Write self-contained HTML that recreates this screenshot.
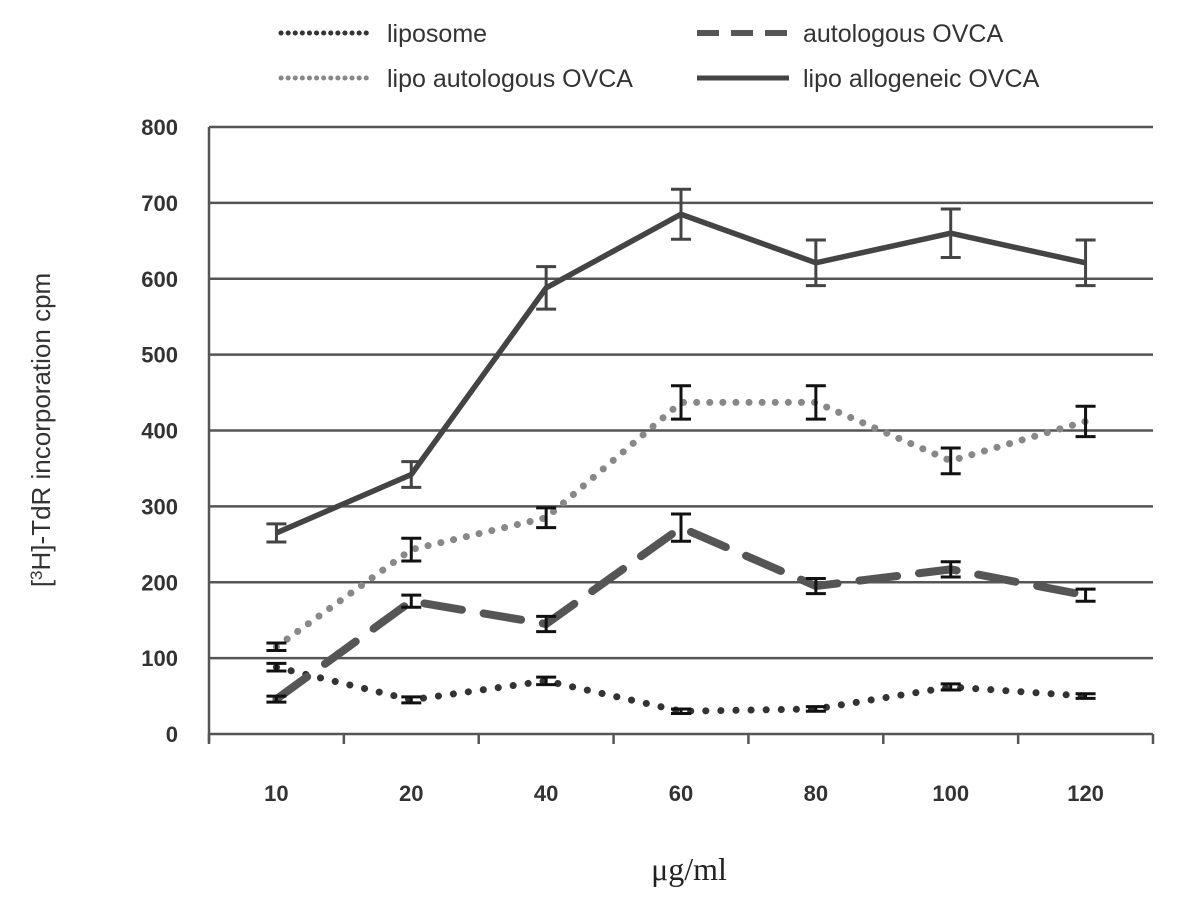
<!DOCTYPE html>
<html><head><meta charset="utf-8"><style>
body{margin:0;background:#fff}
svg text{font-family:"Liberation Sans",sans-serif}
</style></head><body>
<svg id="chart" width="1193" height="901" xmlns="http://www.w3.org/2000/svg"></svg>
<script>
const categories=["10","20","40","60","80","100","120"];
const yTicks=[0,100,200,300,400,500,600,700,800];
const liposome=[88,45,70,30,33,62,50];
const liposomeErr=[5,4,5,3,3,4,3];
const autologous=[46,175,145,272,195,217,183];
const autologousErr=[4,8,10,18,10,10,8];
const lipoAuto=[115,243,285,437,437,360,412];
const lipoAutoErr=[5,15,13,22,22,17,20];
const lipoAllo=[265,342,588,685,621,660,621];
const lipoAlloErr=[12,17,28,33,30,32,30];

const svg=document.getElementById('chart');
const NS="http://www.w3.org/2000/svg";
const x0=209,x1=1153,yBase=734,yTop=127,yMax=800;
const bw=(x1-x0)/categories.length;
function xS(i){return x0+bw*(i+0.5);}
function yS(v){return yBase-(v/yMax)*(yBase-yTop);}
function mk(tag,attrs,parent){const e=document.createElementNS(NS,tag);for(const k in attrs)e.setAttribute(k,attrs[k]);(parent||svg).appendChild(e);return e;}

yTicks.forEach(t=>{
  const l=mk('line',{x1:x0,x2:x1,y1:yS(t),y2:yS(t),stroke:'#555','stroke-width':2.5});
  
  
  const tx=mk('text',{x:178,y:yS(t)+8,'text-anchor':'end','font-size':22,'font-weight':'bold',fill:'#333'});
  tx.textContent=t;
  
  
});
const ax=mk('line',{x1:x0,x2:x0,y1:yTop,y2:yBase+8,stroke:'#555','stroke-width':2.5});


for(let i=0;i<=categories.length;i++){
  const tk=mk('line',{x1:x0+bw*i,x2:x0+bw*i,y1:yBase,y2:yBase+10,stroke:'#555','stroke-width':2.5});
  
  
}
categories.forEach((c,i)=>{
  const tx=mk('text',{x:xS(i),y:801,'text-anchor':'middle','font-size':22,'font-weight':'bold',fill:'#333'});
  tx.textContent=c;
  
  
});

function series(name,vals,errs,style,errColor){
  const g=mk('g',{});
  
  
  const p=mk('polyline',Object.assign({points:vals.map((v,i)=>xS(i)+','+yS(v)).join(' '),fill:'none'},style),g);
  
  
  vals.forEach((v,i)=>{
    const x=xS(i),a=yS(v+errs[i]),b=yS(v-errs[i]);
    const e=mk('path',{d:`M${x-10},${a}H${x+10}M${x},${a}V${b}M${x-10},${b}H${x+10}`,stroke:errColor,'stroke-width':3,fill:'none'},g);
    
    
  });
}
series('liposome',liposome,liposomeErr,{stroke:'#333','stroke-width':7,'stroke-dasharray':'0.1 15','stroke-linecap':'round'},'#111');
series('autologous',autologous,autologousErr,{stroke:'#555','stroke-width':8,'stroke-dasharray':'38 22','stroke-linecap':'round'},'#111');
series('lipo-autologous',lipoAuto,lipoAutoErr,{stroke:'#888','stroke-width':7,'stroke-dasharray':'0.1 13','stroke-linecap':'round'},'#111');
series('lipo-allogeneic',lipoAllo,lipoAlloErr,{stroke:'#444','stroke-width':5.5},'#444');

const leg=[
 {n:'liposome',x:281,y:33,s:{stroke:'#333','stroke-width':5,'stroke-dasharray':'0.1 7','stroke-linecap':'round'}},
 {n:'autologous OVCA',x:697,y:33,s:{stroke:'#555','stroke-width':6,'stroke-dasharray':'22 12'}},
 {n:'lipo autologous  OVCA',x:281,y:78,s:{stroke:'#888','stroke-width':5,'stroke-dasharray':'0.1 7','stroke-linecap':'round'}},
 {n:'lipo allogeneic OVCA',x:697,y:78,s:{stroke:'#444','stroke-width':5}}
];
leg.forEach(l=>{
  const g=mk('g',{});
  
  
  mk('line',Object.assign({x1:l.x,x2:l.x+92,y1:l.y,y2:l.y},l.s),g);
  const t=mk('text',{x:l.x+106,y:l.y+9,'font-size':25,fill:'#333'},g);
  t.textContent=l.n;
});
const yt=mk('text',{transform:'translate(50,430) rotate(-90)','text-anchor':'middle','font-size':26,fill:'#333'});
yt.innerHTML='[<tspan font-size="17" dy="-8">3</tspan><tspan dy="8">H]-TdR incorporation cpm</tspan>';


const xt=mk('text',{x:689,y:880,'text-anchor':'middle','font-size':32,fill:'#222'});
xt.setAttribute('style','font-family:"Liberation Serif",serif');
xt.textContent='μg/ml';


</script>
</body></html>
